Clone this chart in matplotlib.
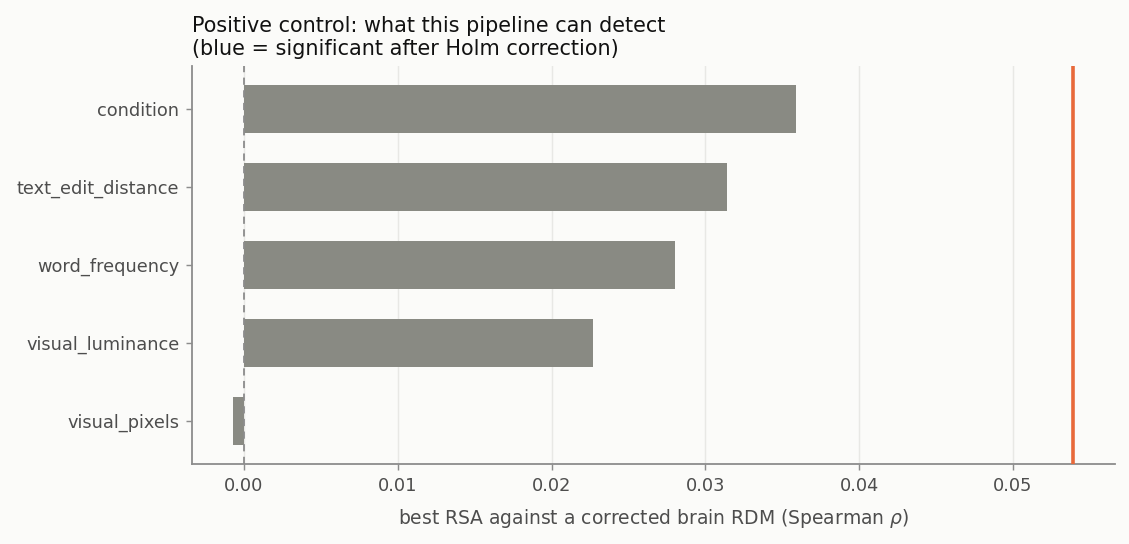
import numpy as np
import matplotlib
matplotlib.use("Agg")
import matplotlib.pyplot as plt

# data
features = ["condition", "text_edit_distance", "word_frequency",
            "visual_luminance", "visual_pixels"]
best_rsa = [0.0359, 0.0314, 0.0280, 0.0227, -0.0007]
significant = [False, False, False, False, False]
ceiling = 0.0539  # noise ceiling / reference line

BG = "#fbfbf9"
GREY_BAR = "#898a83"
BLUE_BAR = "#3b6ea5"
TEXT = "#4d4d4d"
SPINE = "#8c8c8c"

fig, ax = plt.subplots(figsize=(1129 / 130, 544 / 130), dpi=130)
fig.patch.set_facecolor(BG)
ax.set_facecolor(BG)

y = np.arange(len(features))
colors = [BLUE_BAR if s else GREY_BAR for s in significant]
ax.barh(y, best_rsa, height=0.62, color=colors, zorder=2)
ax.axvline(0, color="#8c8c8c", lw=1.0, ls=(0, (4, 3)), zorder=3)
ax.axvline(ceiling, color="#e8693a", lw=2.0, zorder=3)

ax.set_yticks(y)
ax.set_yticklabels(features)
ax.set_xlim(-0.00338, 0.05663)
ax.set_ylim(4.55, -0.55)

ax.grid(axis="x", color="#e8e8e5", lw=0.8, zorder=0)
ax.set_axisbelow(True)
for side in ["top", "right"]:
    ax.spines[side].set_visible(False)
for side in ["left", "bottom"]:
    ax.spines[side].set_color(SPINE)
    ax.spines[side].set_linewidth(1.0)
ax.tick_params(colors=TEXT, labelsize=9.85, color=SPINE)

ax.set_xlabel(r"best RSA against a corrected brain RDM (Spearman $\rho$)",
              color=TEXT, fontsize=10.4, labelpad=7)
ax.set_title("Positive control: what this pipeline can detect\n"
             "(blue = significant after Holm correction)",
             loc="left", fontsize=11.5, color="#111111", pad=6)

fig.subplots_adjust(left=192 / 1129, right=1115 / 1129,
                    top=1 - 66 / 544, bottom=1 - 464 / 544)
fig.savefig("out.png", dpi=130, facecolor=BG)
